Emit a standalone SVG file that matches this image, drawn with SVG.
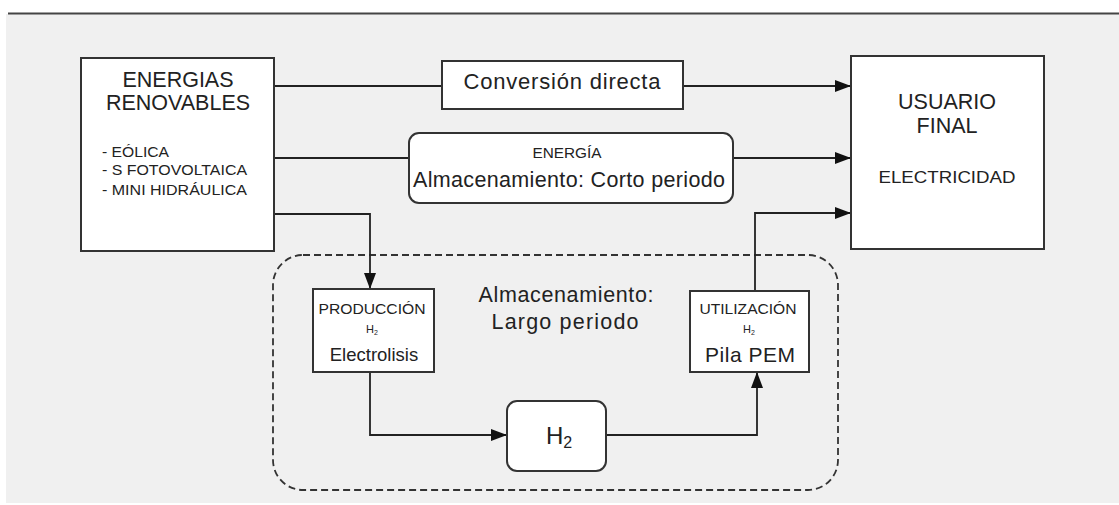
<svg xmlns="http://www.w3.org/2000/svg" width="1119" height="505" viewBox="0 0 1119 505">
<style>
.box{fill:#fff;stroke:#333;stroke-width:2}
.con{fill:none;stroke:#222;stroke-width:1.8}
.dash{fill:none;stroke:#333;stroke-width:1.8;stroke-dasharray:7 4}
text{font-family:"Liberation Sans",Arial,sans-serif;fill:#222;text-anchor:middle}
.big{font-size:21.5px}
.small{font-size:14px}
</style>
<defs>
<marker id="arr" markerUnits="userSpaceOnUse" markerWidth="16" markerHeight="12" refX="16" refY="6" orient="auto">
<path d="M0,0 L16,6 L0,12 z" fill="#111"/>
</marker>
</defs>
<rect x="0" y="0" width="1119" height="505" fill="#fff"/>
<rect x="6" y="14" width="1113" height="489" fill="#f0f0f0"/>
<line x1="8" y1="13.5" x2="1119" y2="13.5" stroke="#444" stroke-width="2"/>

<g id="storage-region">
<rect class="dash" x="273" y="255" width="565" height="235" rx="30"/>
<text class="big" x="566" y="302" textLength="175" lengthAdjust="spacing">Almacenamiento:</text>
<text class="big" x="565" y="329" textLength="147" lengthAdjust="spacing">Largo periodo</text>
</g>

<g id="connectors">
<path class="con" d="M274,86 H442"/>
<path class="con" d="M683,86 H851" marker-end="url(#arr)"/>
<path class="con" d="M274,158 H409"/>
<path class="con" d="M733,158 H851" marker-end="url(#arr)"/>
<path class="con" d="M274,214 H370 V289" marker-end="url(#arr)"/>
<path class="con" d="M370,372 V435 H507" marker-end="url(#arr)"/>
<path class="con" d="M606,435 H757 V372" marker-end="url(#arr)"/>
<path class="con" d="M755,291 V213 H851" marker-end="url(#arr)"/>
</g>

<g id="renovables">
<rect class="box" x="81" y="58" width="193" height="193"/>
<text class="big" x="178" y="87">ENERGIAS</text>
<text class="big" x="178" y="110">RENOVABLES</text>
<text style="font-size:14px;text-anchor:start" x="102" y="157" textLength="67" lengthAdjust="spacingAndGlyphs">- EÓLICA</text>
<text style="font-size:14px;text-anchor:start" x="102" y="175" textLength="145" lengthAdjust="spacingAndGlyphs">- S FOTOVOLTAICA</text>
<text style="font-size:14px;text-anchor:start" x="102" y="195" textLength="145" lengthAdjust="spacingAndGlyphs">- MINI HIDRÁULICA</text>
</g>

<g id="conversion">
<rect class="box" x="442" y="61" width="241" height="48"/>
<text style="font-size:22px" x="562" y="89" textLength="197" lengthAdjust="spacing">Conversión directa</text>
</g>

<g id="corto">
<rect class="box" x="409" y="133" width="324" height="70" rx="10"/>
<text class="small" x="567" y="158" textLength="69" lengthAdjust="spacingAndGlyphs">ENERGÍA</text>
<text class="big" x="569" y="187" textLength="312" lengthAdjust="spacing">Almacenamiento: Corto periodo</text>
</g>

<g id="usuario">
<rect class="box" x="851" y="56" width="193" height="193"/>
<text class="big" x="947" y="109">USUARIO</text>
<text class="big" x="947" y="133">FINAL</text>
<text style="font-size:17px" x="947" y="183" textLength="137" lengthAdjust="spacingAndGlyphs">ELECTRICIDAD</text>
</g>

<g id="produccion">
<rect class="box" x="313" y="289" width="121" height="83"/>
<text class="small" x="372" y="314" textLength="107" lengthAdjust="spacingAndGlyphs">PRODUCCIÓN</text>
<text style="font-size:11px" x="372" y="333">H<tspan style="font-size:7px" dy="2">2</tspan></text>
<text style="font-size:18.5px" x="374" y="361">Electrolisis</text>
</g>

<g id="h2">
<rect class="box" x="507" y="401" width="99" height="70" rx="10"/>
<text style="font-size:24px" x="559" y="444">H<tspan style="font-size:16px" dy="4">2</tspan></text>
</g>

<g id="utilizacion">
<rect class="box" x="690" y="291" width="119" height="81"/>
<text class="small" x="748" y="314" textLength="97" lengthAdjust="spacingAndGlyphs">UTILIZACIÓN</text>
<text style="font-size:11px" x="749" y="333">H<tspan style="font-size:7px" dy="2">2</tspan></text>
<text style="font-size:21px" x="750" y="362" textLength="90" lengthAdjust="spacing">Pila PEM</text>
</g>
</svg>
